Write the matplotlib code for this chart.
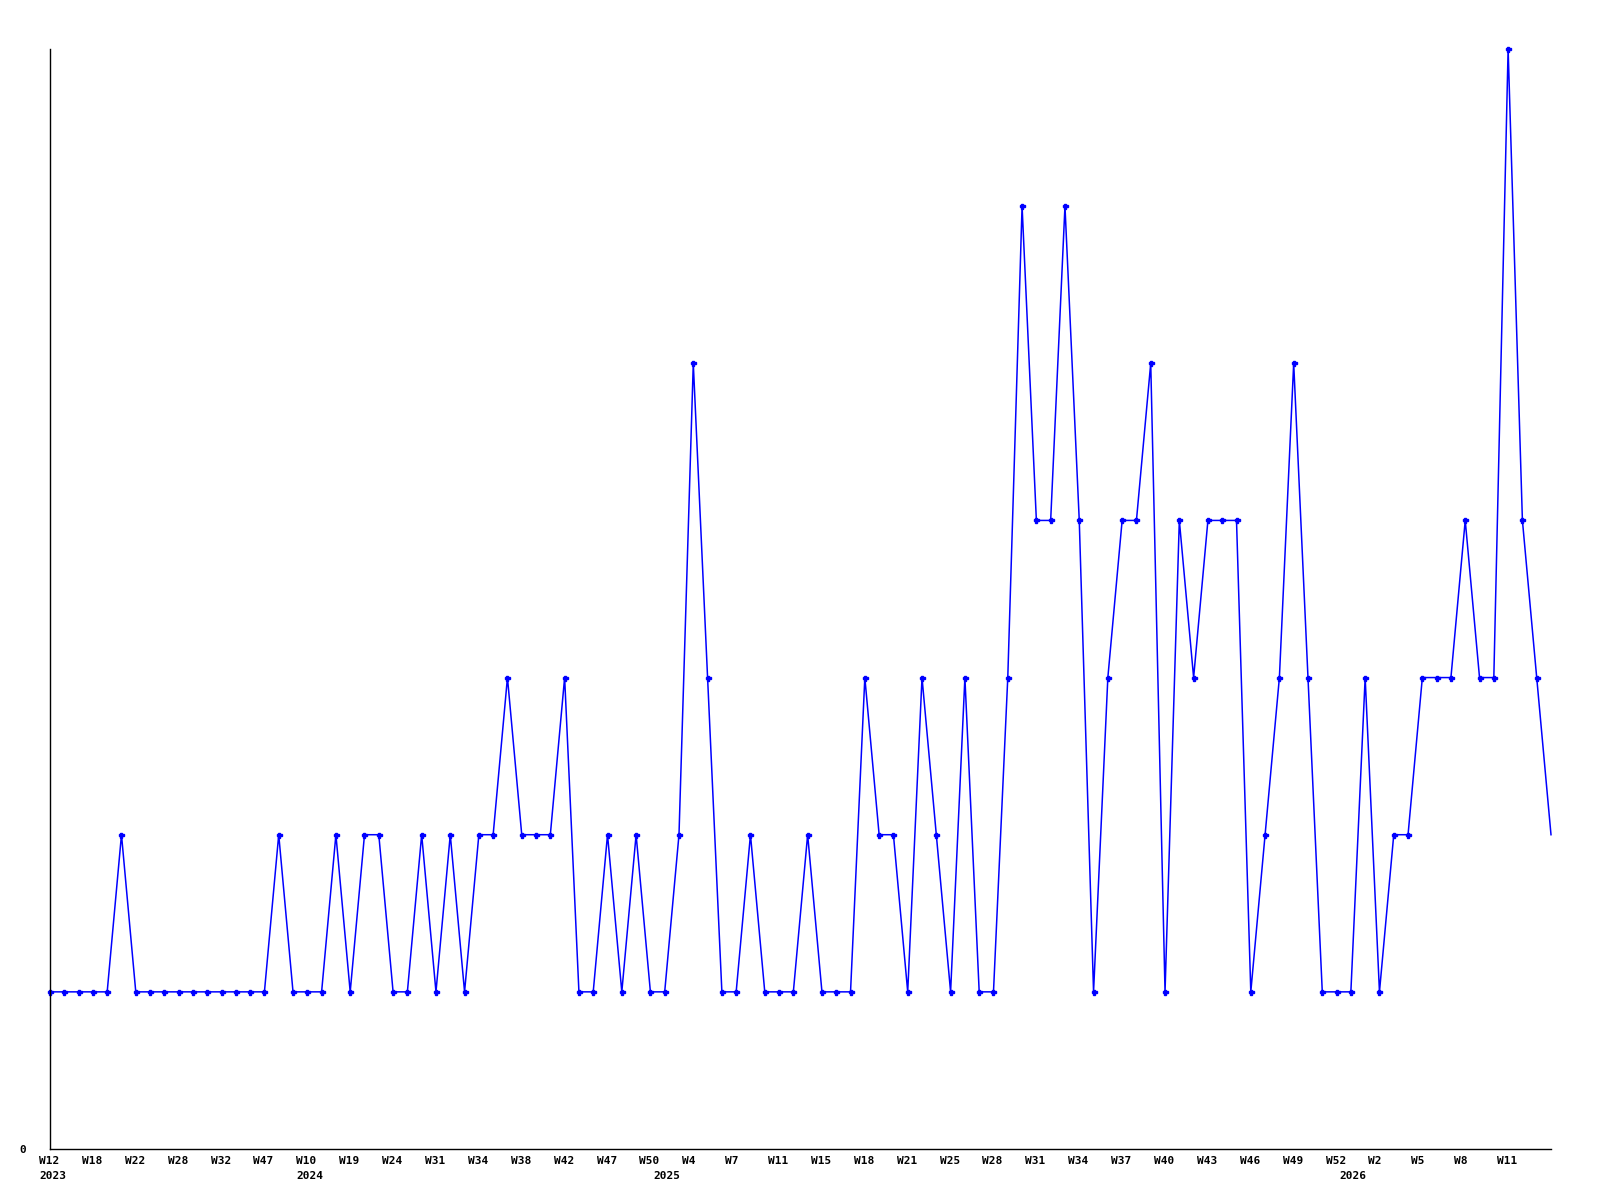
import matplotlib
matplotlib.use("Agg")
from matplotlib import pyplot as plt
from matplotlib.transforms import ScaledTranslation, blended_transform_factory

# weekly counts, one point per week that has data
counts = [1, 1, 1, 1, 1, 2, 1, 1, 1, 1,
          1, 1, 1, 1, 1, 1, 2, 1, 1, 1,
          2, 1, 2, 2, 1, 1, 2, 1, 2, 1,
          2, 2, 3, 2, 2, 2, 3, 1, 1, 2,
          1, 2, 1, 1, 2, 5, 3, 1, 1, 2,
          1, 1, 1, 2, 1, 1, 1, 3, 2, 2,
          1, 3, 2, 1, 3, 1, 1, 3, 6, 4,
          4, 6, 4, 1, 3, 4, 4, 5, 1, 4,
          3, 4, 4, 4, 1, 2, 3, 5, 3, 1,
          1, 1, 3, 1, 2, 2, 3, 3, 3, 4,
          3, 3, 7, 4, 3, 2]

# week label on every third point
week_labels = ["W12", "W18", "W22", "W28", "W32", "W47", "W10", "W19", "W24",
               "W31", "W34", "W38", "W42", "W47", "W50", "W4", "W7", "W11", "W15",
               "W18", "W21", "W25", "W28", "W31", "W34", "W37", "W40", "W43", "W46",
               "W49", "W52", "W2", "W5", "W8", "W11"]

# year labels sit under the first point of each year
years = ["2023", "2024", "2025", "2026"]
year_first_point = [0, 18, 43, 91]

fig = plt.figure(figsize=(16, 12), dpi=100)
ax = fig.add_axes([50 / 1600, 51 / 1200, 1501 / 1600, 1100 / 1200])

x = list(range(len(counts)))
ax.plot(x, counts, color="#0000ff", lw=1.1, marker="P", markersize=3.6,
        markevery=list(range(len(counts) - 1)), clip_on=False)

ax.set_xlim(0, len(counts) - 1)
ax.set_ylim(0, 7)

font = dict(family="DejaVu Sans Mono", fontweight="bold", fontsize=8)
trans = blended_transform_factory(ax.transData, ax.transAxes)
shift = ScaledTranslation(-11 / 100, 0, fig.dpi_scale_trans)
row1 = ScaledTranslation(0, -0.07, fig.dpi_scale_trans)
row2 = ScaledTranslation(0, -0.22, fig.dpi_scale_trans)

# labels are drawn left-aligned a little before their point
ax.set_xticks([])
for wk, idx in zip(week_labels, x[::3]):
    ax.text(idx, 0, wk, transform=trans + shift + row1, ha="left", va="top", **font)
for yr, idx in zip(years, year_first_point):
    ax.text(idx, 0, yr, transform=trans + shift + row2, ha="left", va="top", **font)

ax.set_yticks([0])
ax.set_yticklabels(["0"], **font)
ax.tick_params(axis="y", length=0, pad=17)

for side in ["top", "right"]:
    ax.spines[side].set_visible(False)
for side in ["left", "bottom"]:
    ax.spines[side].set_linewidth(1.0)
    ax.spines[side].set_color("black")

fig.savefig("out.png", dpi=100)
